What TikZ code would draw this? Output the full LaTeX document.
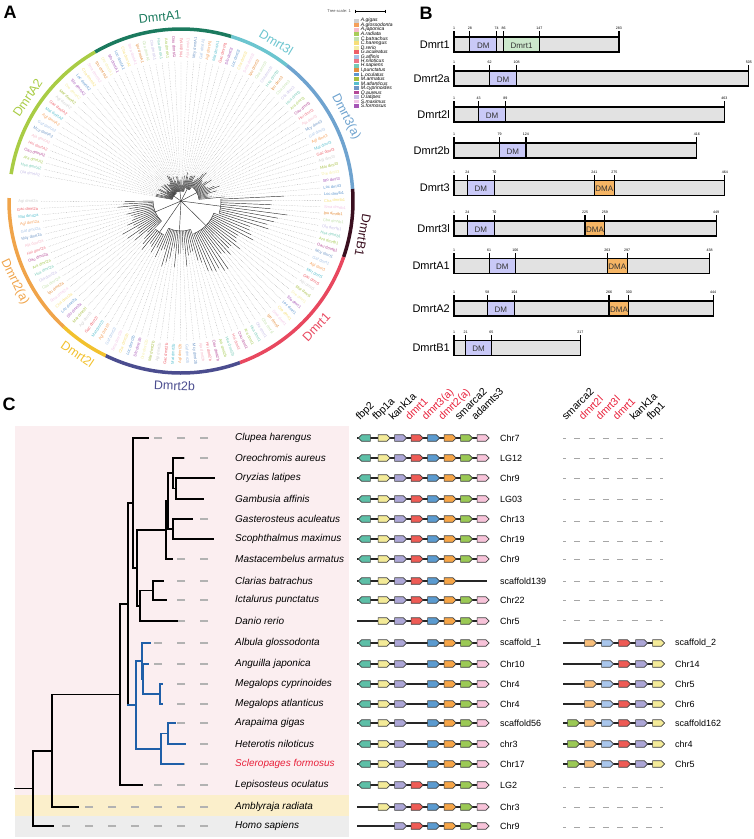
\documentclass[tikz,border=0pt]{standalone}
\usepackage{fontspec}
\setmainfont{Liberation Sans}
\usetikzlibrary{positioning, shapes.symbols}

\definecolor{cA1}{HTML}{1B7A5E}
\definecolor{c3l}{HTML}{6CC5CF}
\definecolor{c3a}{HTML}{6FA3CF}
\definecolor{cB1}{HTML}{3A0F1F}
\definecolor{c1}{HTML}{E8485F}
\definecolor{c2b}{HTML}{4B4D8F}
\definecolor{c2l}{HTML}{F2C12E}
\definecolor{c2a}{HTML}{F0A44A}
\definecolor{cA2}{HTML}{A9CC45}
\definecolor{sp0}{HTML}{CFCFCF}
\definecolor{sp1}{HTML}{F5A05A}
\definecolor{sp2}{HTML}{F6BCCB}
\definecolor{sp3}{HTML}{A8CC58}
\definecolor{sp4}{HTML}{C4E2AE}
\definecolor{sp5}{HTML}{F6DE78}
\definecolor{sp6}{HTML}{F4EDA4}
\definecolor{sp7}{HTML}{EE5E68}
\definecolor{sp8}{HTML}{A6C2E6}
\definecolor{sp9}{HTML}{EE7686}
\definecolor{sp10}{HTML}{76CAB6}
\definecolor{sp11}{HTML}{E48E3E}
\definecolor{sp12}{HTML}{5E96CE}
\definecolor{sp13}{HTML}{A6BE40}
\definecolor{sp14}{HTML}{56BECE}
\definecolor{sp15}{HTML}{6E96C6}
\definecolor{sp16}{HTML}{B44896}
\definecolor{sp17}{HTML}{C6BEE6}
\definecolor{sp18}{HTML}{F2C6E6}
\definecolor{sp19}{HTML}{A656B6}
\definecolor{protgrey}{HTML}{E2E2E2}
\definecolor{domDM}{HTML}{C9C9F7}
\definecolor{domDI}{HTML}{CCE8CC}
\definecolor{domDMA}{HTML}{F5B565}
\definecolor{gL1}{HTML}{5DBFA7}
\definecolor{gL2}{HTML}{F3EA98}
\definecolor{gL3}{HTML}{ACA6D6}
\definecolor{gL4}{HTML}{EE5B55}
\definecolor{gL5}{HTML}{5B9BD0}
\definecolor{gL6}{HTML}{F6A547}
\definecolor{gL7}{HTML}{9BC955}
\definecolor{gL8}{HTML}{F7C3D9}
\definecolor{gR1}{HTML}{9BC955}
\definecolor{gR2}{HTML}{F7BE7A}
\definecolor{gR3}{HTML}{A9C6EC}
\definecolor{gR4}{HTML}{EE5B55}
\definecolor{gR5}{HTML}{ACA6D6}
\definecolor{gR6}{HTML}{F3EA98}
\definecolor{treeblue}{HTML}{1F5FA8}
\definecolor{namered}{HTML}{E8203A}
\definecolor{bgpink}{HTML}{FBEEF0}
\definecolor{bgyellow}{HTML}{FBEFCB}
\definecolor{bggrey}{HTML}{EDEDED}

\tikzset{
  panel lbl/.style={font=\fontsize{18}{20}\selectfont\bfseries, inner sep=0pt},
  clade ring/.style={line width=3.5pt},
  clade lbl/.style={font=\fontsize{12.5}{14}\selectfont, inner sep=0pt},
  tree line/.style={line width=0.45pt, black!80},
  leaf line/.style={line width=0.3pt, black!35, dash pattern=on 0.6pt off 1pt},
  leaf/.style={font=\fontsize{4}{4.5}\selectfont, inner sep=0pt},
  legend box/.style={minimum width=4.5pt, minimum height=3.8pt, inner sep=0pt},
  legend text/.style={font=\fontsize{5}{5}\selectfont\itshape, inner sep=0pt},
  prot bar/.style={draw, line width=1.1pt, fill=protgrey},
  prot name/.style={anchor=east, inner sep=0pt, font=\fontsize{11}{13}\selectfont},
  dom text/.style={font=\fontsize{8}{9}\selectfont, text=black!80, inner sep=0pt},
  aa tick/.style={line width=1.1pt},
  aa num/.style={font=\fontsize{3.6}{4}\selectfont, inner sep=0.8pt},
  tree branch/.style={line width=1.3pt, line cap=rect},
  blue branch/.style={tree branch, draw=treeblue},
  gap dash/.style={draw=black!30, line width=1.2pt, dash pattern=on 8pt off 15pt},
  sp name/.style={anchor=west, inner sep=0pt, font=\fontsize{10}{12}\selectfont\itshape},
  gene/.style={signal, draw=black!75, line width=0.6pt, minimum width=12pt,
    minimum height=6.5pt, inner sep=0pt},
  backbone/.style={line width=1.1pt, black!85},
  chr/.style={anchor=west, inner sep=0pt, font=\fontsize{9}{11}\selectfont},
  hdr/.style={rotate=45, anchor=base west, inner sep=0pt, font=\fontsize{10.5}{12}\selectfont},
  row dash/.style={draw=black!35, line width=1pt, dash pattern=on 6pt off 8.3pt, dash phase=3pt},
}

\begin{document}
\begin{tikzpicture}[x=1pt, y=-1pt]
        \useasboundingbox (0,0) rectangle (754,839);
        \pgfmathsetseed{11}

        \node[panel lbl] (pA) at (10,12) {A};
        \node[panel lbl] (pB) at (426,13) {B};
        \node[panel lbl] (pC) at (9,404) {C};

        % A: circular tree
        \begin{scope}[shift={(181,201)}, yscale=-1]
          \foreach \ca/\cb/\n/\gene/\col/\rc/\lo/\hi/\off/\la/\lr/\lbl in {
              73/120/18/dmrtA1/cA1/10/16/30/0/96.5/6.5/DmrtA1,
              52/73/8/dmrt3l/c3l/14/20/32/3/59/-31/Dmrt3l,
              4/52/18/dmrt3/c3a/18/26/45/5/27/-63/Dmrt3(a),
              -19/4/9/dmrtb1/cB1/40/88/110/9/-10.7/-100.7/DmrtB1,
              -70/-19/19/dmrt1/c1/35/60/88/2/-43/47/Dmrt1,
              -116/-70/17/dmrt2b/c2b/30/48/70/11/-92/-2/Dmrt2b,
              -133/-116/6/dmrt2l/c2l/38/52/64/6/-124/-34/Dmrt2l,
              -181/-133/18/dmrt2a/c2a/28/45/68/13/-154/-64/Dmrt2(a),
              120/171/19/dmrtA2/cA2/9/14/26/4/146/56/DmrtA2}
          {
            \pgfmathsetmacro\st{(\cb-\ca)/\n}
            \draw[clade ring, draw=\col] (\ca:172) arc[start angle=\ca, end angle=\cb, radius=172];
            \node[clade lbl, text=\col, rotate=\lr] (k\gene) at (\la:185) {\lbl};
            \draw[tree line] (0,0) -- ({(\ca+\cb)/2}:\rc);
            \draw[tree line] ({\ca+\st/2}:\rc) arc[start angle={\ca+\st/2}, end angle={\cb-\st/2}, radius=\rc];
            \foreach \i in {1,...,\n} {
              \pgfmathsetmacro\ang{\ca+(\i-0.5)*\st}
              \pgfmathsetmacro\tip{\lo+(\hi-\lo)*rnd}
              \pgfmathtruncatemacro\spk{mod(\i*7+\off,20)}
              \pgfmathsetmacro\ab{{"Agi","Agl","Aja","Ara","Cba","Cha","Dre","Gac","Gaf","Hni","Hsa","Ipu","Loc","Mar","Mat","Mcy","Oau","Ola","Sma","Sfo"}[\spk]}
              \draw[tree line] (\ang:\rc) -- (\ang:\tip);
              \draw[leaf line] (\ang:\tip) -- (\ang:140);
              \ifdim \ang pt>90pt \def\flip{1}\else\ifdim \ang pt<-90pt \def\flip{1}\else\def\flip{0}\fi\fi
              \ifnum\flip=1
                \node[leaf, text=sp\spk, rotate=\ang+180, anchor=east] (lf\gene\i) at (\ang:143) {\ab\ \gene};
              \else
                \node[leaf, text=sp\spk, rotate=\ang, anchor=west] (lf\gene\i) at (\ang:143) {\ab\ \gene};
              \fi
            }
          }
        \end{scope}

        \node[leaf, anchor=east, text=black!70] (tsc) at (351,11) {Tree scale: 1};
        \coordinate (ts0) at (355,11);
        \coordinate (ts1) at (385,11);
        \draw[line width=0.6pt] (ts0) -- (ts1);
        \draw[line width=0.5pt] (ts0) ++(0,-1.5) -- ++(0,3);
        \draw[line width=0.5pt] (ts1) ++(0,-1.5) -- ++(0,3);
        \foreach \sp [count=\i from 0] in {A.gigas, A.glossodonta, A.japonica, A.radiata,
            C.batrachus, C.harengus, D.rerio, G.aculeatus, G.affinis, H.niloticus,
            H.sapiens, I.punctatus, L.oculatus, M.armatus, M.atlanticus, M.cyprinoides,
            O.aureus, O.latipes, S.maximus, S.formosus} {
          \node[legend box, fill=sp\i] (lg\i) at (356.5,{20.7+4.49*\i}) {};
          \node[legend text, right=1.8pt of lg\i] (lt\i) {\sp};
        }

        % B: domains
        \foreach \key/\nm/\yy/\len/\tk in {
            p1/Dmrt1/44.5/283/{1,28,74,86,147,283},
            p2a/Dmrt2a/78.5/505/{1,62,108,505},
            p2l/Dmrt2l/114.5/463/{1,43,89,463},
            p2b/Dmrt2b/150.5/416/{1,79,124,416},
            p3/Dmrt3/188/464/{1,24,70,241,275,464},
            p3l/Dmrt3l/228.5/449/{1,24,70,225,259,449},
            pA1/DmrtA1/266/438/{1,61,106,263,297,438},
            pA2/DmrtA2/308.5/444/{1,58,104,266,300,444},
            pB1/DmrtB1/348/217/{1,21,65,217}} {
          \draw[prot bar] (454,\yy-7.5) rectangle ({454+(\len-1)*0.585},\yy+7.5);
          \node[prot name] (\key) at (450,\yy) {\nm};
          \foreach \t in \tk {
            \draw[aa tick] ({454+(\t-1)*0.585},\yy-7.5) -- ++(0,-6) node[aa num, anchor=south] {\t};
          }
        }
        \foreach \yy/\s/\e/\dn/\dc in {
            44.5/28/74/DM/domDM, 44.5/86/147/Dmrt1/domDI,
            78.5/62/108/DM/domDM, 114.5/43/89/DM/domDM, 150.5/79/124/DM/domDM,
            188/24/70/DM/domDM, 188/241/275/DMA/domDMA,
            228.5/24/70/DM/domDM, 228.5/225/259/DMA/domDMA,
            266/61/106/DM/domDM, 266/263/297/DMA/domDMA,
            308.5/58/104/DM/domDM, 308.5/266/300/DMA/domDMA,
            348/21/65/DM/domDM} {
          \draw[prot bar, fill=\dc] ({454+(\s-1)*0.585},\yy-7.5) rectangle ({454+(\e-1)*0.585},\yy+7.5);
          \node[dom text] at ({454+((\s+\e)/2-1)*0.585},\yy+1) {\dn};
        }

        % C: species tree and synteny
        \fill[bgpink] (15,426) rectangle (349,795);
        \fill[bgyellow] (15,795) rectangle (349,816);
        \fill[bggrey] (15,816) rectangle (349,837);

        \foreach \nm [count=\i from 0] in {fbp2, fbp1a, kank1a, dmrt1, dmrt3(a), dmrt2(a), smarca2, adamts3} {
          \ifnum\i>2 \ifnum\i<6 \def\hc{namered}\else\def\hc{black}\fi\else\def\hc{black}\fi
          \node[hdr, text=\hc] (hL\i) at ({360+\i*16.5},421) {\nm};
        }
        \foreach \nm [count=\i from 0] in {smarca2, dmrt2l, dmrt3l, dmrt1, kank1a, fbp1} {
          \ifnum\i>0 \ifnum\i<4 \def\hc{namered}\else\def\hc{black}\fi\else\def\hc{black}\fi
          \node[hdr, text=\hc] (hR\i) at ({566+\i*17},421) {\nm};
        }

        \foreach \key/\yy/\spn/\tipx/\chr/\gl/\nc in {
            Clu/438/Clupea harengus/148/Chr7/{1,2,3,4,5,6,7,8}/black,
            Oau/458/Oreochromis aureus/183/LG12/{1,2,3,4,5,6,7,8}/black,
            Ola/478/Oryzias latipes/214/Chr9/{1,2,3,4,5,6,7,8}/black,
            Gaf/499/Gambusia affinis/203/LG03/{1,2,3,4,5,6,7,8}/black,
            Gac/519/Gasterosteus aculeatus/192/Chr13/{1,2,3,4,5,6,7,8}/black,
            Sma/539/Scophthalmus maximus/213/Chr19/{1,2,3,4,5,6,7,8}/black,
            Mar/559/Mastacembelus armatus/172/Chr9/{1,2,3,4,5,6,7,8}/black,
            Cba/581/Clarias batrachus/163/scaffold139/{1,2,3,4,5,6}/black,
            Ipu/600/Ictalurus punctatus/166/Chr22/{1,2,3,4,5,6,7,8}/black,
            Dre/621/Danio rerio/177/Chr5/{2,3,4,5,6,7,8}/black,
            Agl/643/Albula glossodonta/150/scaffold\_1/{1,2,3,5,6,7,8}/black,
            Aja/664/Anguilla japonica/148/Chr10/{1,2,3,5,6,7,8}/black,
            Mcy/684/Megalops cyprinoides/162/Chr4/{1,2,3,5,6,7,8}/black,
            Mat/704/Megalops atlanticus/162/Chr4/{1,2,3,5,6,7,8}/black,
            Agi/723/Arapaima gigas/175/scaffold56/{1,2,3,5,6,7,8}/black,
            Hni/744/Heterotis niloticus/185/chr3/{1,2,3,5,6,7,8}/black,
            Sfo/764/Scleropages formosus/183/Chr17/{1,2,3,5,6,7,8}/namered,
            Loc/785/Lepisosteus oculatus/142/LG2/{1,2,3,4,5,6,7,8}/black,
            Ara/807/Amblyraja radiata/78/Chr3/{2,3,4,5,6,7,8}/black,
            Hsa/826/Homo sapiens/53/Chr9/{3,4,5,6,7,8}/black} {
          \node[sp name, text=\nc] (s\key) at (235,\yy) {\spn};
          \coordinate (l\key) at (\tipx,\yy);
          \ifdim \tipx pt<199pt
            \draw[gap dash] ([xshift=-27pt]s\key.west) -- (l\key);
          \fi
          \coordinate (a\key) at (357,\yy);
          \coordinate (b\key) at (487,\yy);
          \draw[backbone] (a\key) -- (b\key);
          \foreach \g in \gl {
            \ifnum\g=1 \def\gdir{west}\else\def\gdir{east}\fi
            \node[gene, fill=gL\g, signal to=\gdir] (g\key\g) at ({366+(\g-1)*16.5},\yy) {};
          }
          \node[chr] (c\key) at (500,\yy) {\chr};
        }

        \foreach \key/\yy/\gl/\chr in {
            Agl/643/{2,3,4,5,6}/scaffold\_2,
            Aja/664/{3,4,5,6}/Chr14,
            Mcy/684/{2,3,4,5,6}/Chr5,
            Mat/704/{2,3,4,5,6}/Chr6,
            Agi/723/{1,2,3,4,5,6}/scaffold162,
            Hni/744/{1,2,3,4,5,6}/chr4,
            Sfo/764/{1,2,3,4,5,6}/Chr5} {
          \coordinate (ra\key) at (563,\yy);
          \coordinate (rb\key) at (663,\yy);
          \draw[backbone] (ra\key) -- (rb\key);
          \foreach \g in \gl {
            \node[gene, fill=gR\g, signal to=east] (r\key\g) at ({572+(\g-1)*17},\yy) {};
          }
          \node[chr] (rc\key) at (675,\yy) {\chr};
        }
        \foreach \key/\yy in {Clu/438, Oau/458, Ola/478, Gaf/499, Gac/521, Sma/541, Mar/559,
            Cba/581, Ipu/600, Dre/620, Loc/787, Ara/807, Hsa/827} {
          \coordinate (ra\key) at (563,\yy);
          \coordinate (rb\key) at (663,\yy);
          \draw[row dash] (ra\key) -- (rb\key);
        }

        \coordinate (nT)  at (176,488.5);
        \coordinate (nR)  at (173,473);
        \coordinate (nS)  at (173,529);
        \coordinate (nQ)  at (168,501);
        \coordinate (nP)  at (166,530);
        \coordinate (nCI) at (153,590.5);
        \coordinate (nO)  at (140,606);
        \coordinate (nE)  at (137,568);
        \coordinate (nCL) at (133,503);
        \coordinate (nMg) at (160,694);
        \coordinate (nAM) at (143,679);
        \coordinate (nEL) at (142,661);
        \coordinate (nOG) at (168,733.5);
        \coordinate (nOS) at (161,749);
        \coordinate (nBB) at (136,705);
        \coordinate (nTE) at (128,604);
        \coordinate (nOST) at (120,694.5);
        \coordinate (nGN) at (52,751);
        \coordinate (nRoot) at (33,788.5);
        \coordinate (stem) at (15,788.5);

        \foreach \p/\c in {nT/lOla, nT/lGaf, nR/lOau, nR/nT, nS/lGac, nS/lSma, nQ/nR, nQ/nS,
            nP/nQ, nP/lMar, nCI/lCba, nCI/lIpu, nO/nCI, nO/lDre, nE/nP, nE/nO, nCL/lClu,
            nCL/nE, nTE/nCL, nTE/nBB, nOST/nTE, nOST/lLoc, nGN/nOST, nGN/lAra,
            nRoot/nGN, nRoot/lHsa}
          \draw[tree branch] (\p) |- (\c);
        \foreach \p/\c in {nBB/nEL, nBB/nOS, nEL/lAgl, nEL/nAM, nAM/lAja, nAM/nMg,
            nMg/lMcy, nMg/lMat, nOS/nOG, nOS/lSfo, nOG/lAgi, nOG/lHni}
          \draw[blue branch] (\p) |- (\c);
        \draw[blue branch] (nTE |- nBB) -- (nBB);
        \draw[tree branch] (stem) -- (nRoot);
\end{tikzpicture}
\end{document}
